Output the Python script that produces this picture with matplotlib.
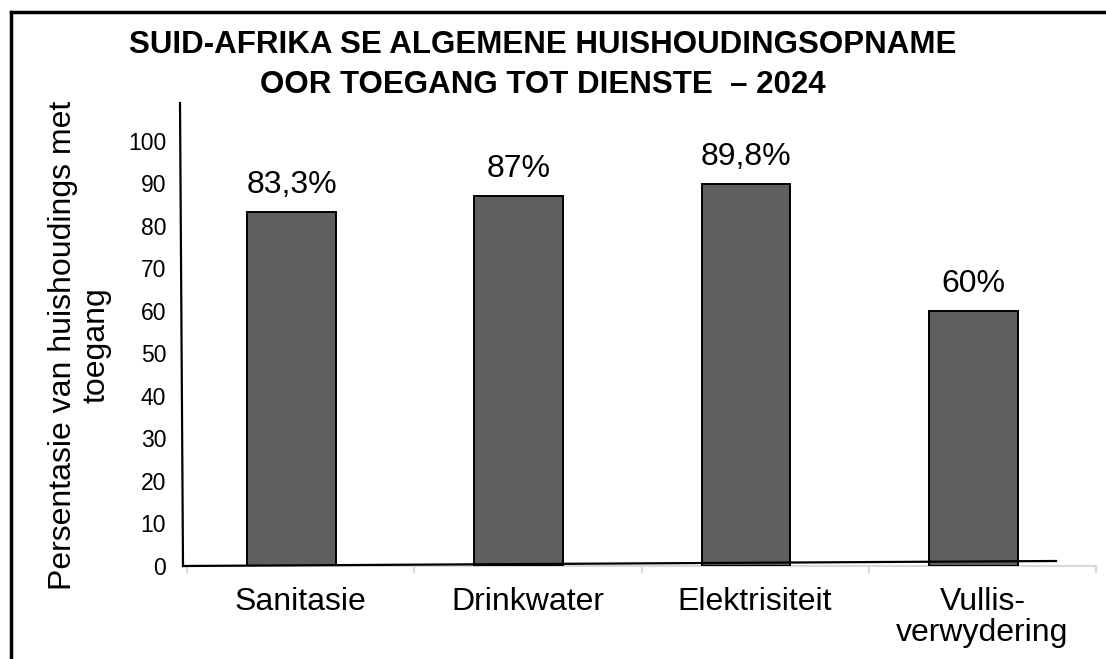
import numpy as np
import matplotlib
matplotlib.use("Agg")
import matplotlib.pyplot as plt
from matplotlib.lines import Line2D

plt.rcParams['font.family'] = ['Liberation Sans', 'DejaVu Sans']

# data
categories = ['Sanitasie', 'Drinkwater', 'Elektrisiteit', 'Vullis-\nverwydering']
values = [83.3, 87, 89.8, 60]
value_labels = ['83,3%', '87%', '89,8%', '60%']
yticks = list(range(0, 101, 10))

W, H = 1106, 659
fig = plt.figure(figsize=(W / 100, H / 100), dpi=100)
ax = fig.add_axes([187 / W, 1 - 566 / H, (1096 - 187) / W, (566 - 103) / H])

x = np.arange(len(categories))
bars = ax.bar(x - 0.04, values, width=0.39, color='#5f5f5f',
              edgecolor='black', linewidth=1.4, zorder=3)

for b, lab in zip(bars, value_labels):
    ax.annotate(lab, (b.get_x() + b.get_width() / 2, b.get_height()),
                xytext=(0, 13.5), textcoords='offset points',
                ha='center', va='baseline', fontsize=23)

ax.set_xlim(-0.5, len(categories) - 0.5)
ax.set_ylim(0, 108.9)
ax.set_yticks(yticks)
ax.set_xticks(x)
ax.set_xticklabels(categories, fontsize=23, linespacing=1.05)
ax.set_xticks(np.arange(len(categories) + 1) - 0.5, minor=True)
ax.tick_params(axis='y', length=0, pad=15, labelsize=16.5)
ax.tick_params(axis='x', which='major', length=0, pad=15)
ax.tick_params(axis='x', which='minor', length=5, width=1.5, color='#d9d9d9')

for s in ['top', 'right', 'left']:
    ax.spines[s].set_visible(False)
ax.spines['bottom'].set_color('#d9d9d9')
ax.spines['bottom'].set_linewidth(1.5)

# slightly crooked hand-drawn axes
ax.plot([-0.0077, -0.0044], [1, 0], transform=ax.transAxes, color='black',
        lw=1.6, clip_on=False, zorder=5)
ax.plot([-0.0044, 0.956], [0, 0.0108], transform=ax.transAxes, color='black',
        lw=1.6, clip_on=False, zorder=5)

fig.text(0.491, 1 - 65 / H,
         'SUID-AFRIKA SE ALGEMENE HUISHOUDINGSOPNAME\nOOR TOEGANG TOT DIENSTE  \u2013 2024',
         ha='center', va='center', fontsize=22.5, fontweight='bold', linespacing=1.45)

fig.text(80 / W, 1 - 345 / H, 'Persentasie van huishoudings met\ntoegang',
         rotation=90, ha='center', va='center', fontsize=23, linespacing=1.15)

# frame around the picture
bx, by = 11 / W, 1 - 12 / H
fig.add_artist(Line2D([bx, bx], [0, by], color='black', lw=2.5))
fig.add_artist(Line2D([bx, 1], [by, by], color='black', lw=2.5))

fig.savefig('out.png', dpi=100)
